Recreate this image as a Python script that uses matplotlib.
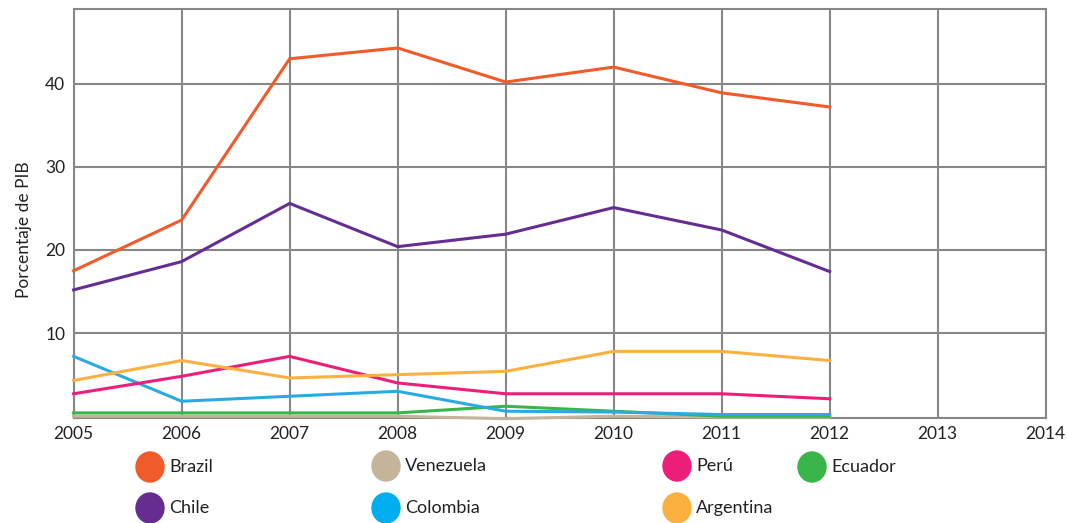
import numpy as np
import matplotlib.pyplot as plt
from matplotlib.patches import Ellipse

plt.rcParams['font.family'] = ['Lato', 'DejaVu Sans']

years = [2005, 2006, 2007, 2008, 2009, 2010, 2011, 2012]

brazil = [17.5, 23.6, 43.0, 44.3, 40.2, 42.0, 38.9, 37.2]
chile = [15.2, 18.6, 25.6, 20.4, 21.9, 25.1, 22.4, 17.4]
argentina = [4.3, 6.7, 4.6, 5.0, 5.4, 7.8, 7.8, 6.7]
peru = [2.7, 4.8, 7.2, 4.0, 2.7, 2.7, 2.7, 2.1]
colombia = [7.2, 1.8, 2.4, 3.0, 0.6, 0.5, 0.2, 0.2]
ecuador = [0.4, 0.4, 0.4, 0.4, 1.2, 0.6, 0.0, 0.0]
venezuela = [0.0, 0.0, 0.0, 0.0, -0.3, 0.0, -0.1, -0.1]

series = [
    ('Brazil', brazil, '#f15a29'),
    ('Chile', chile, '#662d91'),
    ('Venezuela', venezuela, '#c4b59a'),
    ('Colombia', colombia, '#29abe2'),
    ('Perú', peru, '#ed1e79'),
    ('Argentina', argentina, '#fbb040'),
    ('Ecuador', ecuador, '#39b54a'),
]

fig = plt.figure(figsize=(10.67, 5.23), dpi=100)
ax = fig.add_axes([0.069, 0.201, 0.911, 0.782])

# draw venezuela/ecuador first so they sit under the others
order = ['Venezuela', 'Ecuador', 'Colombia', 'Perú', 'Argentina', 'Chile', 'Brazil']
for name in order:
    for n, vals, col in series:
        if n == name:
            ax.plot(years, vals, color=col, lw=2.2, clip_on=False, zorder=3)

ax.set_xlim(2005, 2014)
ax.set_ylim(-0.2, 49)
ax.set_xticks(range(2005, 2015))
ax.set_yticks([10, 20, 30, 40])
ax.tick_params(length=0, labelsize=12.5, colors='#222222', pad=6)
ax.grid(True, color='#878787', lw=1.5)
ax.set_axisbelow(True)
for s in ax.spines.values():
    s.set_color('#878787')
    s.set_linewidth(1.5)
ax.set_ylabel('Porcentaje de PIB', fontsize=12.5, color='#222222')
ax.yaxis.set_label_coords(-0.043, 0.46)

# legend built by hand below the axes
legend_items = [
    ('Brazil', '#f15a29', 150, 467),
    ('Venezuela', '#c4b59a', 386, 466),
    ('Perú', '#ed1e79', 677, 466),
    ('Ecuador', '#39b54a', 812, 467),
    ('Chile', '#662d91', 150, 508),
    ('Colombia', '#00aeef', 386, 508),
    ('Argentina', '#fbb040', 677, 508),
]
W, H = 1067, 523
for label, col, px, py in legend_items:
    fig.add_artist(Ellipse((px / W, 1 - py / H), 28 / W, 30 / H,
                           transform=fig.transFigure, color=col))
    fig.text((px + 19) / W, 1 - py / H, label, fontsize=13,
             va='center', ha='left', color='#222222')

fig.savefig('out.png', dpi=100)
